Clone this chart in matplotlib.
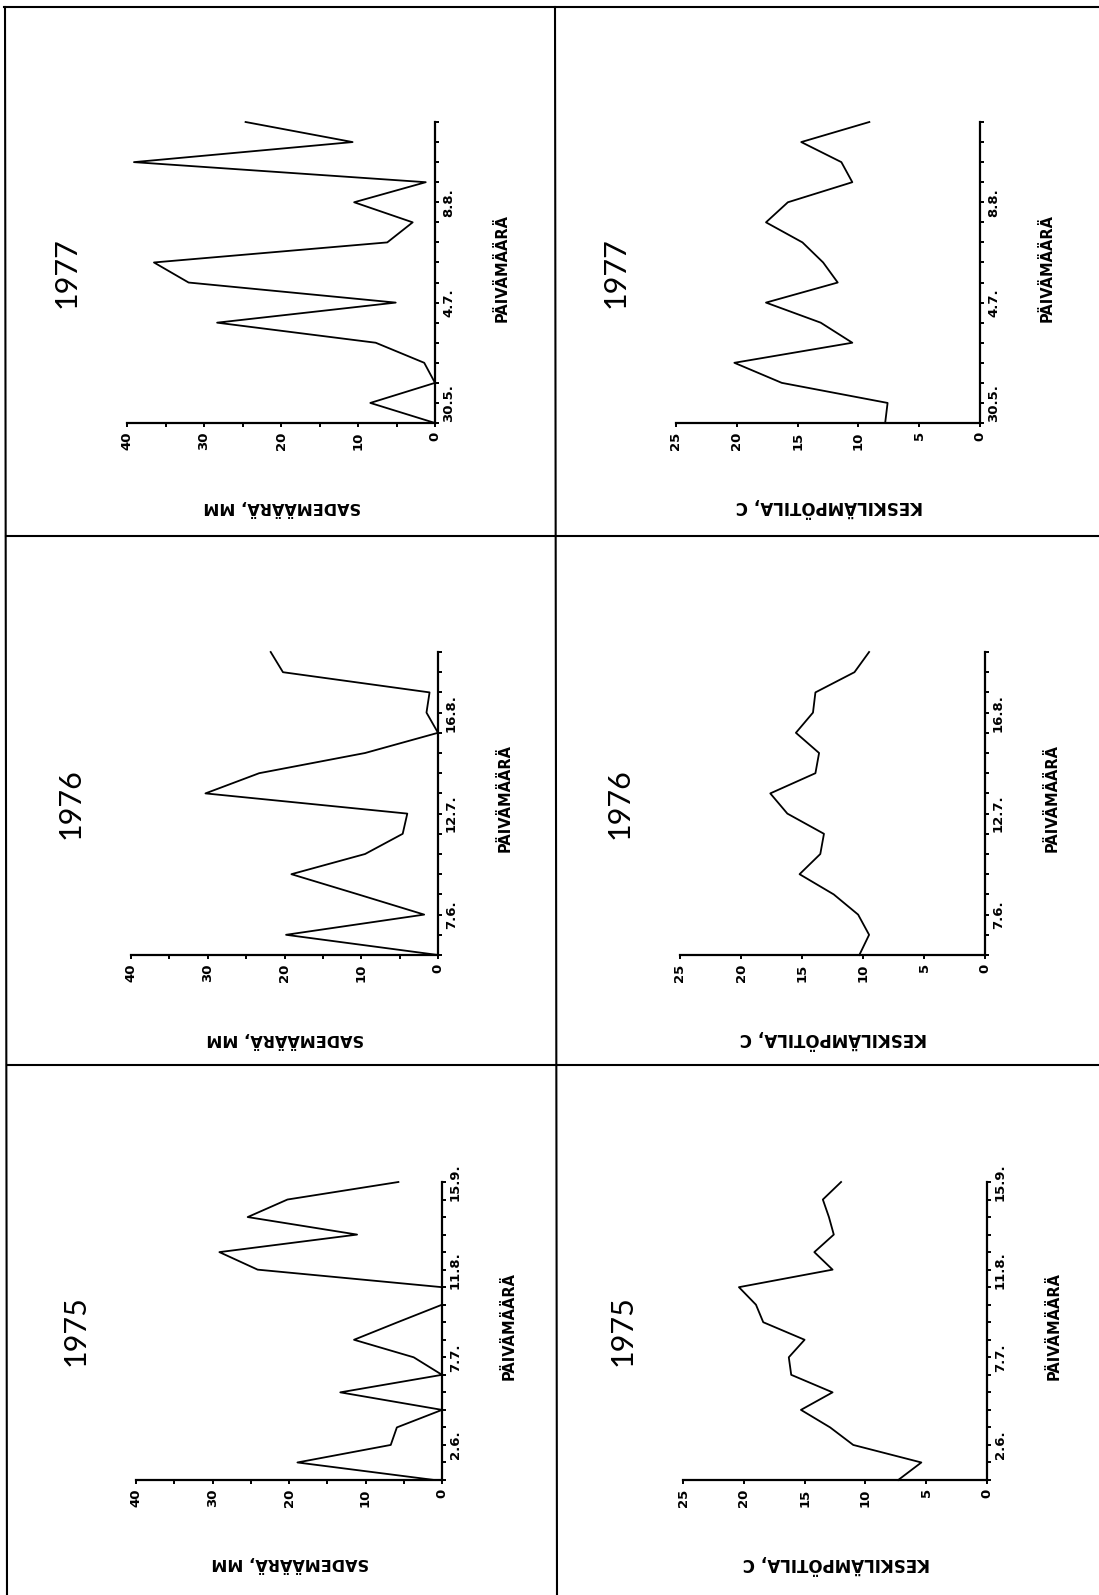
import matplotlib
matplotlib.use("Agg")
import matplotlib.pyplot as plt
from matplotlib.lines import Line2D

W, H = 1099, 1595

# weekly observations, summer months
rain_1977 = [0, 8.4, 0, 1.4, 7.7, 28.3, 5.1, 32.0, 36.5, 6.2, 2.9, 10.5, 1.2, 39.1, 10.7, 24.6]
temp_1977 = [7.8, 7.6, 16.3, 20.2, 10.5, 13.1, 17.6, 11.7, 12.9, 14.6, 17.6, 15.8, 10.5, 11.4, 14.7, 9.1]
dates_1977 = {1: "30.5.", 6: "4.7.", 11: "8.8."}

rain_1976 = [0, 19.8, 1.8, 10.4, 19.1, 9.5, 4.6, 4.0, 30.3, 23.3, 9.5, 0, 1.5, 1.1, 20.2, 21.8]
temp_1976 = [10.3, 9.5, 10.4, 12.4, 15.2, 13.5, 13.2, 16.2, 17.6, 13.9, 13.6, 15.5, 14.1, 13.9, 10.7, 9.5]
dates_1976 = {2: "7.6.", 7: "12.7.", 12: "16.8."}

rain_1975 = [1.0, 18.9, 6.7, 5.9, 0, 13.3, 0, 3.7, 11.5, 5.8, 0, 0, 24.1, 29.1, 11.1, 25.4, 20.2, 5.7]
temp_1975 = [7.3, 5.4, 11.0, 12.9, 15.3, 12.7, 16.1, 16.3, 15.0, 18.4, 19.0, 20.4, 12.7, 14.2, 12.6, 13.0, 13.5, 12.0]
dates_1975 = {2: "2.6.", 7: "7.7.", 12: "11.8.", 17: "15.9."}

years = ["1977", "1976", "1975"]
rain_label = "SADEMÄÄRÄ, MM"
temp_label = "KESKILÄMPÖTILA, C"
date_label = "PÄIVÄMÄÄRÄ"

plt.rcParams["font.family"] = "DejaVu Sans"

fig = plt.figure(figsize=(W / 100, H / 100), dpi=100)


def fx(x):
    return x / W


def fy(y):
    return 1 - y / H


def panel(ox, oy, ex, ty, values, dates, vmax, major, minor, ylab, ysize, year):
    # the page is turned: dates run upwards, values grow to the left
    ax = fig.add_axes([fx(ex), fy(oy), (ox - ex) / W, (oy - ty) / H])
    n = len(values)
    ax.plot(values, range(n), color="black", lw=1.3, clip_on=False)
    ax.set_xlim(vmax, 0)
    ax.set_ylim(0, n - 1)
    for s in ("top", "left"):
        ax.spines[s].set_visible(False)
    for s in ("bottom", "right"):
        ax.spines[s].set_linewidth(1.6)
    ax.patch.set_visible(False)

    ax.set_xticks(range(0, vmax + 1, major))
    ax.set_xticklabels([str(v) for v in range(0, vmax + 1, major)],
                       rotation=90, fontsize=9.5, fontweight="bold")
    if minor:
        ax.set_xticks(range(0, vmax + 1, minor), minor=True)
    ax.tick_params(axis="x", which="both", direction="out", length=3, width=1.4, pad=3)

    ax.yaxis.tick_right()
    ax.set_yticks(range(n))
    ax.set_yticklabels([dates.get(i, "") for i in range(n)],
                       rotation=90, fontsize=9.5, fontweight="bold", va="center")
    ax.tick_params(axis="y", direction="out", length=3, width=1.4, pad=2)

    mid = (oy + ty) / 2
    fig.text(fx(ox + 67), fy(mid - 5), date_label, rotation=90, ha="center", va="center",
             fontsize=10.5, fontweight="bold")
    fig.text(fx((ox + ex) / 2 + 1), fy(oy + 84), ylab, rotation=180, ha="center", va="center",
             fontsize=ysize, fontweight="bold")
    fig.text(fx(ex - 60), fy(mid), year, rotation=90, ha="center", va="center",
             fontsize=22, family="Lato")
    return ax


rows = [
    (423, 122, rain_1977, temp_1977, dates_1977),
    (955, 652, rain_1976, temp_1976, dates_1976),
    (1480, 1182, rain_1975, temp_1975, dates_1975),
]
rain_x = [(435, 127), (438, 131), (442, 136)]
temp_x = [(980, 676), (985, 680), (987, 683)]

for k, (oy, ty, rain, temp, dates) in enumerate(rows):
    ox, ex = rain_x[k]
    panel(ox, oy, ex, ty, rain, dates, 40, 10, 5, rain_label, 11.5, years[k])
    ox, ex = temp_x[k]
    panel(ox, oy, ex, ty, temp, dates, 25, 5, None, temp_label, 12, years[k])

# frame and dividers of the page
frame = [
    ((4, 1099), (7, 7)),
    ((5, 7), (7, 1595)),
    ((555, 557), (7, 1595)),
    ((6, 1099), (536, 536)),
    ((7, 1099), (1065, 1065)),
]
for xs, ys in frame:
    fig.add_artist(Line2D([fx(x) for x in xs], [fy(y) for y in ys],
                          color="black", lw=1.5))

fig.savefig("out.png", dpi=100)
